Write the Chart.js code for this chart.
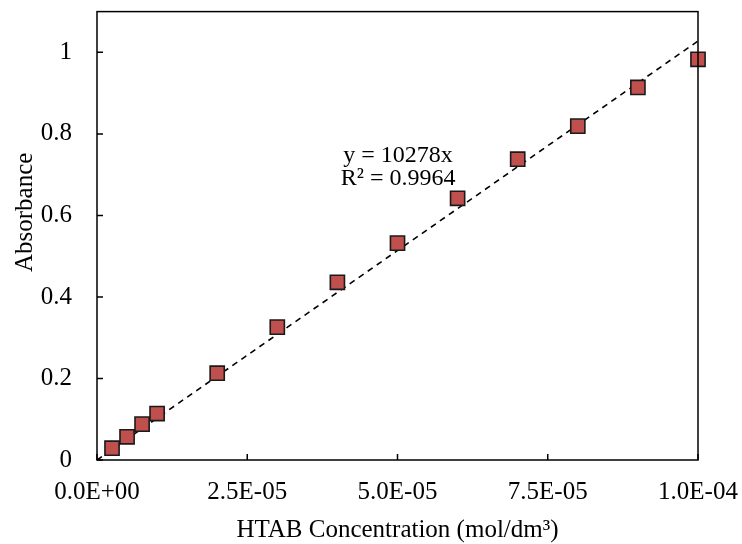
<!DOCTYPE html>
<html>
<head>
<meta charset="utf-8">
<script src="https://cdn.jsdelivr.net/npm/chart.js@4.4.0/dist/chart.umd.min.js"></script>
<style>
  html, body { margin: 0; padding: 0; background: #fff; }
  #wrap { width: 742px; height: 544px; }
</style>
</head>
<body>
<div id="wrap"><canvas id="chart" width="742" height="544"></canvas></div>
<script>
// HTAB concentration (mol/dm3) vs absorbance
const conc = [2.5e-6, 5e-6, 7.5e-6, 1e-5, 2e-5, 3e-5, 4e-5, 5e-5, 6e-5, 7e-5, 8e-5, 9e-5, 1e-4];
const absorbance = [0.029, 0.057, 0.088, 0.114, 0.213, 0.326, 0.436, 0.532, 0.642, 0.738, 0.819, 0.914, 0.983];
const slope = 10278;
const r2 = 0.9964;
const xTicks = [0, 2.5e-5, 5e-5, 7.5e-5, 1e-4];
const yTicks = [0, 0.2, 0.4, 0.6, 0.8, 1];

const FONT = '"Liberation Serif", "Times New Roman", serif';

const fmtSci = v => {
  const [m, e] = v.toExponential(1).split('e');
  const n = parseInt(e, 10);
  return `${m}E${n < 0 ? '-' : '+'}${String(Math.abs(n)).padStart(2, '0')}`;
};

// frame, inward ticks, y title and the trendline label
const decor = {
  id: 'decor',
  afterDatasetsDraw(chart) {
    const { ctx, chartArea: a, scales: { x, y } } = chart;
    ctx.save();
    ctx.strokeStyle = '#000';
    ctx.lineWidth = 1.5;
    ctx.strokeRect(a.left, a.top, a.right - a.left, a.bottom - a.top);
    ctx.beginPath();
    xTicks.forEach(t => {
      const px = x.getPixelForValue(t);
      ctx.moveTo(px, a.bottom); ctx.lineTo(px, a.bottom - 6);
    });
    yTicks.forEach(t => {
      const py = y.getPixelForValue(t);
      ctx.moveTo(a.left, py); ctx.lineTo(a.left + 6, py);
    });
    ctx.stroke();

    ctx.fillStyle = '#000';
    ctx.font = `24px ${FONT}`;
    ctx.textAlign = 'center';
    ctx.textBaseline = 'alphabetic';
    const lx = x.getPixelForValue(5.01e-5);
    ctx.fillText(`y = ${slope}x`, lx, y.getPixelForValue(0.730));
    ctx.fillText(`R² = ${r2}`, lx, y.getPixelForValue(0.674));

    // y axis title sits a little above the plot's middle in the original
    ctx.font = `25px ${FONT}`;
    ctx.textBaseline = 'middle';
    ctx.translate(25, y.getPixelForValue(0.6076));
    ctx.rotate(-Math.PI / 2);
    ctx.fillText('Absorbance', 0, 0);
    ctx.restore();
  }
};

new Chart(document.getElementById('chart'), {
  type: 'scatter',
  data: {
    datasets: [
      {
        type: 'line',
        data: [{ x: 0, y: 0 }, { x: xTicks[xTicks.length - 1], y: slope * xTicks[xTicks.length - 1] }],
        borderColor: '#000',
        borderWidth: 1.6,
        borderDash: [6, 5],
        pointRadius: 0,
        fill: false,
        order: 2,
      },
      {
        data: conc.map((c, i) => ({ x: c, y: absorbance[i] })),
        pointStyle: 'rect',
        pointRadius: 10,
        backgroundColor: '#C0504D',
        borderColor: '#1a1a1a',
        borderWidth: 1.6,
        order: 1,
      },
    ],
  },
  options: {
    responsive: false,
    animation: false,
    clip: false,
    layout: { padding: { left: 0, right: 44, top: 11, bottom: 0 } },
    plugins: { legend: { display: false }, tooltip: { enabled: false } },
    scales: {
      x: {
        type: 'linear',
        min: 0, max: 1e-4,
        afterBuildTicks: s => { s.ticks = xTicks.map(v => ({ value: v })); },
        afterFit: s => { s.height = 84; s.paddingLeft = 0; s.paddingRight = 0; },
        grid: { display: false, drawTicks: false },
        border: { display: false },
        ticks: {
          color: '#000', padding: 17, maxRotation: 0,
          font: { family: FONT, size: 25 },
          callback: v => fmtSci(v),
        },
        title: {
          display: true, text: 'HTAB Concentration (mol/dm³)', color: '#000',
          font: { family: FONT, size: 25 }, padding: { top: 0, bottom: -1 },
        },
      },
      y: {
        min: 0, max: 1.1,
        afterBuildTicks: s => { s.ticks = yTicks.map(v => ({ value: v })); },
        afterFit: s => { s.width = 97; s.paddingTop = 0; s.paddingBottom = 0; },
        grid: { display: false, drawTicks: false },
        border: { display: false },
        ticks: {
          color: '#000', padding: 25,
          font: { family: FONT, size: 25 },
          callback: v => String(+v.toFixed(1)),
        },
      },
    },
  },
  plugins: [decor],
});
</script>
</body>
</html>
